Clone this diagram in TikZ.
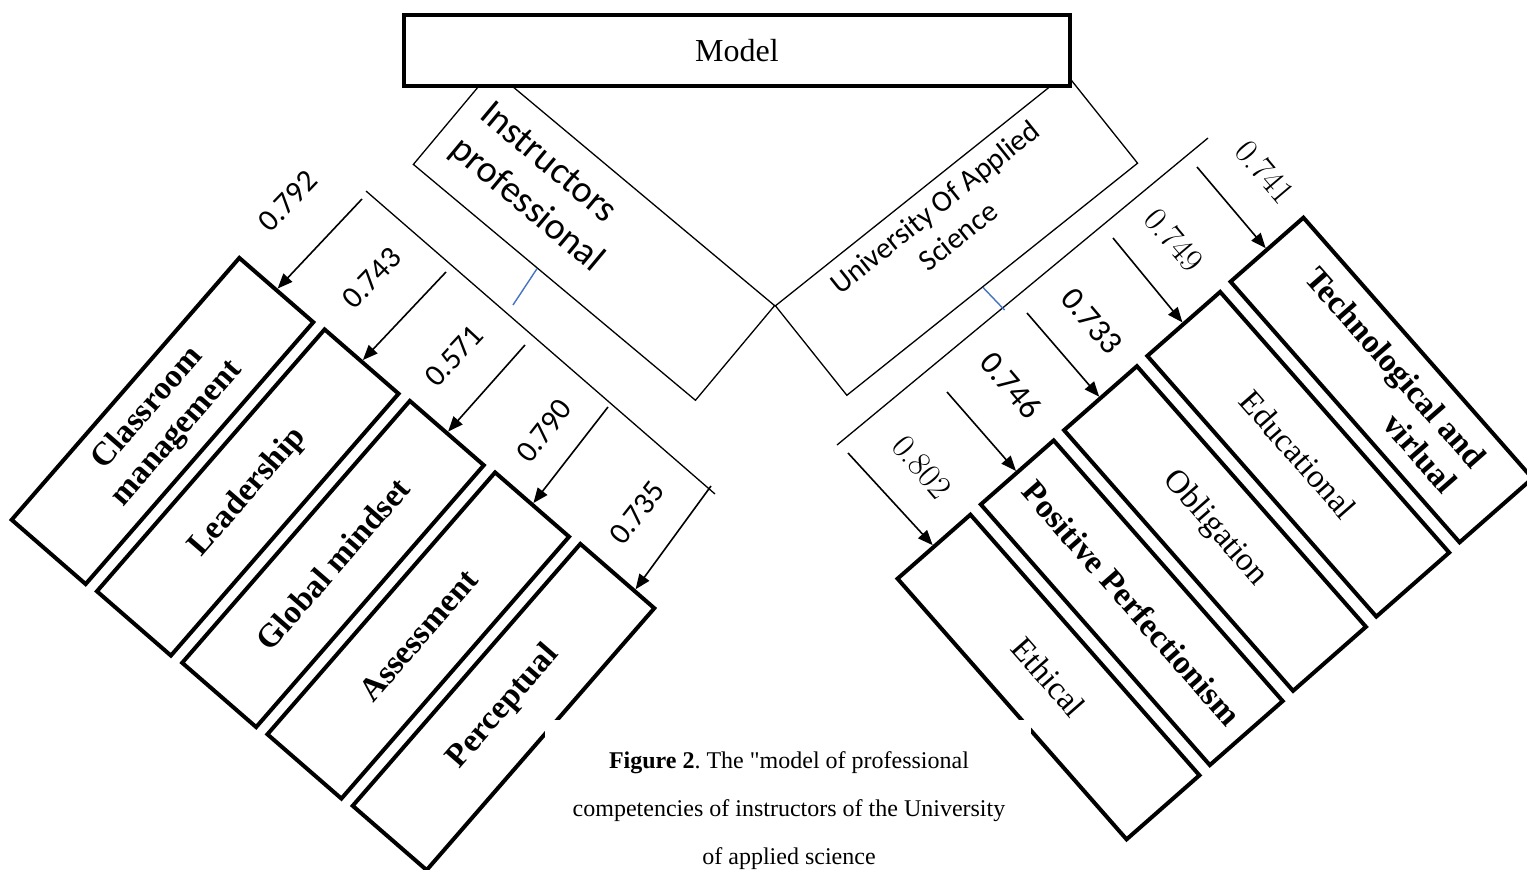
\documentclass[tikz,border=0pt]{standalone}
\usepackage{fontspec}
\newfontfamily\tnr{Liberation Serif}
\newfontfamily\carl{Carlito}
\usetikzlibrary{arrows.meta,calc}
\definecolor{tickblue}{RGB}{68,114,196}
\frenchspacing
\tikzset{
  lbox/.style={draw, line width=4pt, rectangle, minimum width=347pt, minimum height=98pt,
    inner sep=0pt, align=center, font=\tnr\bfseries\fontsize{33}{38}\selectfont},
  rbox/.style={draw, line width=4pt, rectangle, minimum width=347pt, minimum height=97pt,
    inner sep=0pt, align=center, font=\tnr\fontsize{33}{38}\selectfont},
  rboxb/.style={rbox, font=\tnr\bfseries\fontsize{33}{38}\selectfont},
  thinbox/.style={draw, line width=1.3pt, rectangle, inner sep=0pt},
  thinline/.style={line width=1.3pt},
  blueline/.style={draw=tickblue, line width=1.4pt},
  arr/.style={line width=1.6pt, -{Triangle[length=15pt,width=12pt]}},
  numl/.style={font=\carl\fontsize{31}{31}\selectfont, inner sep=0pt},
  numc/.style={font=\carl\fontsize{33}{33}\selectfont, inner sep=0pt},
  nums/.style={font=\rmfamily\fontsize{34}{34}\selectfont, inner sep=0pt},
}
\begin{document}
\begin{tikzpicture}[x=1pt,y=-1pt]
\useasboundingbox (0,0) rectangle (1527,870);

% bracket lines
\coordinate (LLa) at (366,191);
\coordinate (LLb) at (715,494);
\coordinate (RLa) at (837,445);
\coordinate (RLb) at (1208,138);
\draw[thinline] (LLa) -- (LLb);
\draw[thinline] (RLa) -- (RLb);

% left competency boxes
\node[lbox, rotate=49] (cm) at (162.5,421) {Classroom\\management};
\node[lbox, rotate=49] (ld) at (247.75,492.5) {Leadership};
\node[lbox, rotate=49] (gm) at (333,564) {Global mindset};
\node[lbox, rotate=49] (as) at (418.25,635.5) {Assessment};
\node[lbox, rotate=49] (pc) at (503.5,707) {Perceptual};

% right competency boxes
\node[rboxb, rotate=-48.7, align=right] (tv) at (1381.5,380) {Technological and\\virlual};
\node[rbox, rotate=-48.7] (ed) at (1298.25,454.25) {Educational};
\node[rbox, rotate=-48.7] (ob) at (1215,528.5) {Obligation};
\node[rboxb, rotate=-48.7] (pp) at (1131.75,602.75) {Positive Perfectionism};
\node[rbox, rotate=-48.7] (et) at (1048.5,677) {Ethical};

% left arrows
\coordinate (sL1) at (362,199);
\coordinate (sL2) at (446,272);
\coordinate (sL3) at (525,345);
\coordinate (sL4) at (608,407);
\coordinate (sL5) at (711,486);
\draw[arr] (sL1) -- (cm.east);
\draw[arr] (sL2) -- (ld.east);
\draw[arr] (sL3) -- (gm.east);
\draw[arr] (sL4) -- (as.east);
\draw[arr] (sL5) -- ($(pc.north east)!0.72!(pc.south east)$);

% right arrows
\coordinate (sR1) at (1197,167);
\coordinate (sR2) at (1113,238);
\coordinate (sR3) at (1027,313);
\coordinate (sR4) at (947,392);
\coordinate (sR5) at (848,453);
\draw[arr] (sR1) -- (tv.west);
\draw[arr] (sR2) -- (ed.west);
\draw[arr] (sR3) -- (ob.west);
\draw[arr] (sR4) -- (pp.west);
\draw[arr] (sR5) -- (et.west);

% loading labels
\node[numl, rotate=46] (n1) at (288,201) {0.792};
\node[numl, rotate=46] (n2) at (372,278) {0.743};
\node[numl, rotate=47] (n3) at (454,356) {0.571};
\node[numl, rotate=52] (n4) at (544,431) {0.790};
\node[numl, rotate=52] (n5) at (637,513) {0.735};
\node[nums, rotate=-49.7] (m1) at (1265,172) {0.741};
\node[nums, rotate=-49.7] (m2) at (1174,240) {0.749};
\node[numc, rotate=-49.7] (m3) at (1092,321) {0.733};
\node[numc, rotate=-49.7] (m4) at (1011,385) {0.746};
\node[nums, rotate=-49.7] (m5) at (922,467) {0.802};

% dimension boxes
\node[thinbox, rotate=-39.9, minimum width=367.7pt, minimum height=123.4pt] (ip) at (594,235) {};
\node[rotate=-39.9, anchor=north west, inner xsep=20pt, inner ysep=22pt, align=left,
  font=\carl\fontsize{38}{46}\selectfont] (iptext) at (ip.north west) {Instructors\\professional};
\node[thinbox, rotate=38.6, minimum width=372pt, minimum height=114.5pt] (ub) at (956.5,234.5) {};
\node[rotate=38.6, anchor=north, inner ysep=12pt, align=center,
  font=\carl\fontsize{30}{37}\selectfont] (ubtext) at (ub.north) {University Of Applied\\Science};

% blue ticks
\coordinate (bl) at (513,305);
\coordinate (br) at (1004.5,310);
\draw[blueline] ($(ip.south west)!0.44!(ip.south east)$) -- (bl);
\draw[blueline] ($(ub.south west)!0.467!(ub.south east)$) -- (br);

% model box
\node[draw, line width=4.5pt, fill=white, minimum width=666pt, minimum height=71pt,
  font=\tnr\fontsize{32}{32}\selectfont] (model) at (737,50.5) {Model};

% caption
\node[fill=white, inner sep=0pt, minimum width=486pt, minimum height=150pt, anchor=north west] (capbg) at (545,720) {};
\node[font=\tnr\fontsize{24}{48}\selectfont, align=center] (cap) at (789,811)
  {\textbf{Figure 2}. The "model of professional\\competencies of instructors of the University\\of applied science};
\end{tikzpicture}
\end{document}
